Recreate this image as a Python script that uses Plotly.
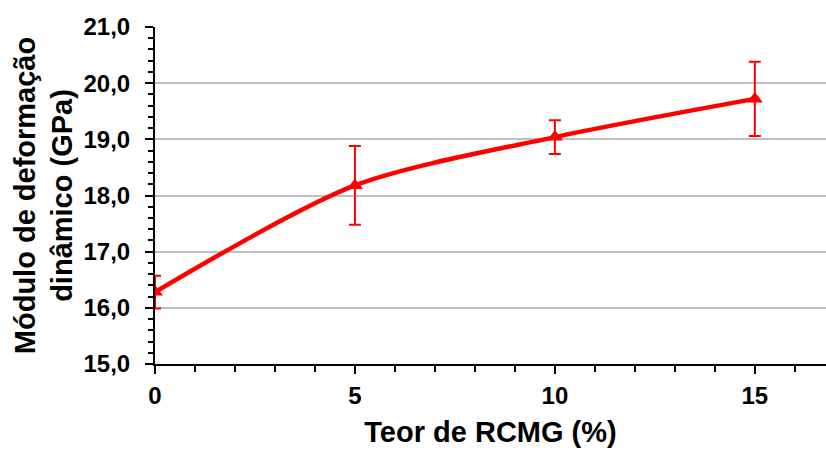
import plotly.graph_objects as go

teor = [0, 5, 10, 15]
modulo = [16.28, 18.18, 19.04, 19.72]
erro = [0.29, 0.70, 0.30, 0.66]

red = "#ff0000"
fnt = "Liberation Sans, Arial, sans-serif"

fig = go.Figure()
fig.add_trace(go.Scatter(
    x=teor, y=modulo,
    mode="lines+markers",
    line=dict(color=red, width=4.5, shape="spline", smoothing=0.8),
    marker=dict(symbol="triangle-up", size=14, color=red),
    error_y=dict(type="data", array=erro, visible=True, color=red, thickness=2, width=6),
    showlegend=False,
))

fig.update_layout(
    width=826, height=450,
    margin=dict(l=155, r=0, t=27, b=86),
    plot_bgcolor="white", paper_bgcolor="white",
    separators=",.",
    font=dict(family=fnt, color="black"),
    xaxis=dict(
        range=[0, 16.78], tickvals=[0, 5, 10, 15], ticktext=["0", "5", "10", "15"],
        showgrid=False, zeroline=False,
        showline=True, linecolor="black", linewidth=2,
        ticks="outside", ticklen=8, tickwidth=2, tickcolor="black",
        minor=dict(dtick=1, ticks="outside", ticklen=6, tickwidth=1.5, tickcolor="black", showgrid=False),
        tickfont=dict(size=24, family=fnt, weight="bold"),
        ticklabelstandoff=1,
        title=dict(text="Teor de RCMG (%)", font=dict(size=29, family=fnt, weight="bold"), standoff=14),
    ),
    yaxis=dict(
        range=[15, 21], dtick=1, tick0=15, tickformat=".1f",
        showgrid=True, gridcolor="#c0c0c0", gridwidth=1.5, zeroline=False,
        showline=True, linecolor="black", linewidth=2,
        ticks="outside", ticklen=8, tickwidth=2, tickcolor="black",
        minor=dict(dtick=0.2, ticks="outside", ticklen=5, tickwidth=1.5, tickcolor="black", showgrid=False),
        tickfont=dict(size=24, family=fnt, weight="bold"),
        ticklabelstandoff=10,
        title=dict(text="Módulo de deformação<br>dinâmico (GPa)", font=dict(size=29, family=fnt, weight="bold"), standoff=2),
    ),
)

fig.write_html("out.html")
